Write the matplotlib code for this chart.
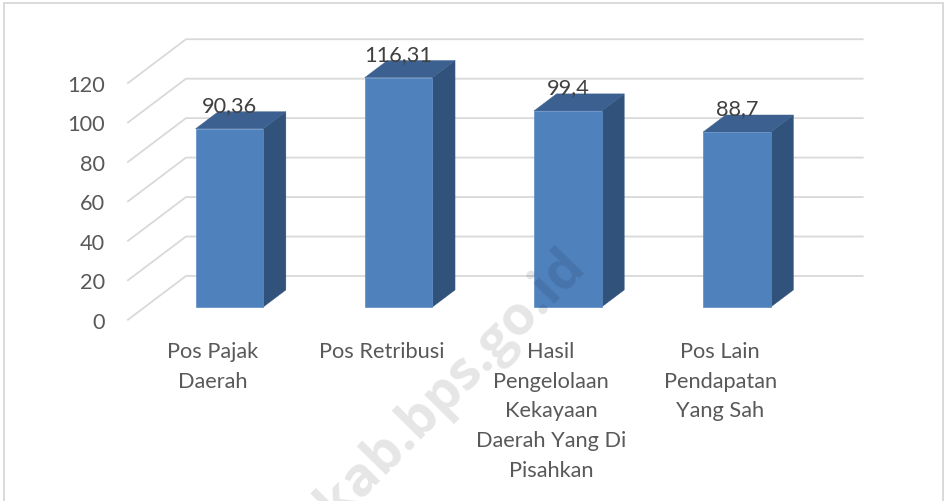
import matplotlib
matplotlib.use("Agg")
import matplotlib.pyplot as plt
from matplotlib.patches import Polygon, Rectangle

plt.rcParams["font.family"] = ["Lato", "DejaVu Sans"]

categories = ["Pos Pajak\nDaerah", "Pos Retribusi", "Hasil\nPengelolaan\nKekayaan\nDaerah Yang Di\nPisahkan",
              "Pos Lain\nPendapatan\nYang Sah"]
values = [90.36, 116.31, 99.4, 88.7]
value_labels = ["90,36", "116,31", "99,4", "88,7"]
y_ticks = [0, 20, 40, 60, 80, 100, 120]

W, H = 944, 502
# floor depth of the fake 3d box, in axis units
DEPTH_X = 58 / 169.2
DEPTH_Y = 43.7 / 1.97
BAR_HALF = 0.2
BAR_START = 0.29
BAR_DEPTH = 0.39

fig = plt.figure(figsize=(W / 100, H / 100), dpi=100, facecolor="white")
ax = fig.add_axes([128 / W, 1 - 320.7 / H, (804.7 - 128) / W, (320.7 - 84) / H])
ax.set_xlim(-0.5, 3.5)
ax.set_ylim(0, 120)
ax.patch.set_visible(False)
for spine in ax.spines.values():
    spine.set_visible(False)


def project(x, y, depth):
    return x + depth * DEPTH_X, y + depth * DEPTH_Y


for tick in y_ticks:
    xs = [-0.5, project(-0.5, tick, 1)[0], 3.5 + DEPTH_X]
    ys = [tick, tick + DEPTH_Y, tick + DEPTH_Y]
    ax.plot(xs, ys, color="#D9D9D9", lw=1.3, clip_on=False, zorder=1, solid_joinstyle="miter")

for i, value in enumerate(values):
    left, base = project(i - BAR_HALF, 0, BAR_START)
    right, top = project(i + BAR_HALF, value, BAR_START)
    shift_x, shift_y = BAR_DEPTH * DEPTH_X, BAR_DEPTH * DEPTH_Y
    ax.add_patch(Polygon([(right, base), (right + shift_x, base + shift_y), (right + shift_x, top + shift_y),
                          (right, top)], closed=True, fc="#31527A", ec="#31527A", lw=0.3, clip_on=False, zorder=2))
    ax.add_patch(Polygon([(left, top), (right, top), (right + shift_x, top + shift_y), (left + shift_x, top + shift_y)],
                         closed=True, fc="#3C6190", ec="#3C6190", lw=0.3, clip_on=False, zorder=2))
    ax.add_patch(Rectangle((left, base), right - left, top - base, fc="#4F81BD", ec="#5B8CC6", lw=0.5,
                           clip_on=False, zorder=3))
    ax.text((left + right) / 2, top + shift_y + 0.3, value_labels[i], ha="center", va="baseline",
            fontsize=15.7, color="#404040", zorder=4)

ax.set_yticks(y_ticks)
ax.set_yticklabels([str(t) for t in y_ticks], fontsize=15.7, color="#595959")
ax.set_xticks(range(len(categories)))
ax.set_xticklabels(categories, fontsize=15.7, color="#595959", linespacing=1.6)
ax.tick_params(axis="both", length=0)
ax.tick_params(axis="y", pad=16.5)
ax.tick_params(axis="x", pad=15.5)

# chart border
fig.add_artist(Rectangle((4 / W, -0.02), 938.5 / W, 1.012, fill=False, ec="#D9D9D9", lw=1.4,
                         transform=fig.transFigure))

# bps watermark, runs off the bottom edge
fig.text(587 / W, 1 - 267 / H, "nkab.bps.go.id", rotation=45.5, rotation_mode="anchor", ha="right", va="baseline",
         fontsize=39, fontweight="bold", family="Open Sans", color="black", alpha=0.1, zorder=10)

fig.savefig("out.png", dpi=100)
